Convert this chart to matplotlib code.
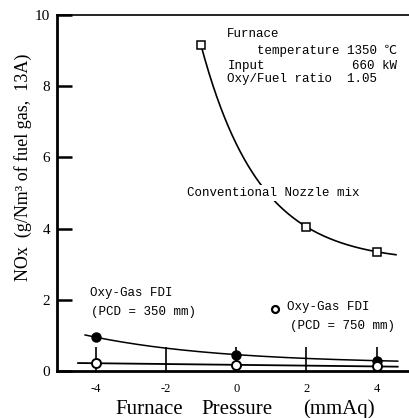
import numpy as np
import matplotlib
matplotlib.use("Agg")
import matplotlib.pyplot as plt

# Furnace pressure (mmAq) and NOx (g/Nm3 of fuel gas, 13A)
conv_x = [-1, 2, 4]
conv_y = [9.15, 4.05, 3.35]
fdi350_x = [-4, 0, 4]
fdi350_y = [0.95, 0.46, 0.29]
fdi750_x = [-4, 0, 4]
fdi750_y = [0.22, 0.17, 0.13]

x_ticks = [-4, -2, 0, 2, 4]
y_ticks = [0, 2, 4, 6, 8, 10]


def exp_fit(xs, ys):
    """Fit y = a + b*exp(-c*x) exactly through three points."""
    xs = np.asarray(xs, float)
    ys = np.asarray(ys, float)

    def resid(c):
        e = np.exp(-c * xs)
        b = (ys[0] - ys[1]) / (e[0] - e[1])
        a = ys[0] - b * e[0]
        return a + b * e[2] - ys[2], a, b

    lo, hi = 1e-4, 5.0
    for _ in range(200):
        mid = 0.5 * (lo + hi)
        if resid(lo)[0] * resid(mid)[0] <= 0:
            hi = mid
        else:
            lo = mid
    c = 0.5 * (lo + hi)
    _, a, b = resid(c)
    return lambda x: a + b * np.exp(-c * x)


serif = ["Liberation Serif", "DejaVu Serif"]
mono = ["Liberation Mono", "Noto Sans CJK JP", "DejaVu Sans Mono"]

W, H = 410, 418
fig = plt.figure(figsize=(W / 100, H / 100), dpi=100)
ax = fig.add_axes([57 / W, 1 - 371 / H, 1 - 57 / W, (371 - 15) / H])
ax.set_xlim(-5.1, 4.95)
ax.set_ylim(0, 10)

# Conventional nozzle-mix curve
f_conv = exp_fit(conv_x, conv_y)
xc = np.linspace(-1.0, 4.55, 200)
ax.plot(xc, f_conv(xc), color="black", lw=1.2)
ax.plot(conv_x, conv_y, ls="none", marker="s", ms=5.5, mfc="white",
        mec="black", mew=1.1, zorder=3)

# Oxy-Gas FDI, PCD = 350 mm (filled)
f350 = exp_fit(fdi350_x, fdi350_y)
x3 = np.linspace(-4.3, 4.6, 200)
ax.plot(x3, f350(x3), color="black", lw=1.1)
ax.plot(fdi350_x, fdi350_y, ls="none", marker="o", ms=6.5, mfc="black",
        mec="black", zorder=3)

# Oxy-Gas FDI, PCD = 750 mm (open)
k, m = np.polyfit(fdi750_x, fdi750_y, 1)
x7 = np.linspace(-4.5, 4.6, 50)
ax.plot(x7, k * x7 + m, color="black", lw=1.3)
ax.plot(fdi750_x, fdi750_y, ls="none", marker="o", ms=6.5, mfc="white",
        mec="black", mew=1.4, zorder=4)

# Axes frame
ax.spines["right"].set_visible(False)
ax.spines["left"].set_linewidth(2.0)
ax.spines["bottom"].set_linewidth(2.0)
ax.spines["top"].set_linewidth(1.2)

ax.set_xticks(x_ticks)
ax.set_yticks(y_ticks)
ax.set_xticklabels([str(v) for v in x_ticks], family=serif, fontsize=9)
ax.set_yticklabels([str(v) for v in y_ticks], family=serif, fontsize=11)
ax.tick_params(axis="x", direction="in", length=17, width=1.2, pad=9)
ax.tick_params(axis="y", direction="in", length=11, width=1.8, pad=5)

# Axis titles
yb = 1 - 414 / H
fig.text(115 / W, yb, "Furnace", family=serif, fontsize=15, va="baseline")
fig.text(201 / W, yb, "Pressure", family=serif, fontsize=15, va="baseline")
fig.text(303 / W, yb, "(mmAq)", family=serif, fontsize=15, va="baseline")
fig.text(23 / W, 1 - 167 / H, "NOx  (g/Nm\u00b3 of fuel gas,  13A)",
         family=serif, fontsize=13, rotation=90, ha="center", va="center")

# Operating conditions
tk = dict(family=mono, fontsize=9, color="black", va="center")
ax.text(-0.25, 9.47, "Furnace", **tk)
ax.text(4.58, 9.0, "temperature 1350 \u2103", ha="right", **tk)
ax.text(-0.25, 8.57, "Input", **tk)
ax.text(4.58, 8.57, "660 kW", ha="right", **tk)
ax.text(-0.25, 8.2, "Oxy/Fuel ratio  1.05", **tk)

# Series labels
lk = dict(family=mono, fontsize=9, color="black", va="center")
ax.text(-1.4, 4.99, "Conventional Nozzle mix", zorder=5,
        bbox=dict(fc="white", ec="none", pad=1.5), **lk)
ax.text(-4.16, 2.18, "Oxy-Gas FDI", **lk)
ax.text(-4.13, 1.65, "(PCD = 350 mm)", **lk)
ax.plot([1.12], [1.74], ls="none", marker="o", ms=5, mfc="white",
        mec="black", mew=1.6)
ax.text(1.46, 1.79, "Oxy-Gas FDI", **lk)
ax.text(1.54, 1.26, "(PCD = 750 mm)", **lk)

fig.savefig("out.png", dpi=100)
